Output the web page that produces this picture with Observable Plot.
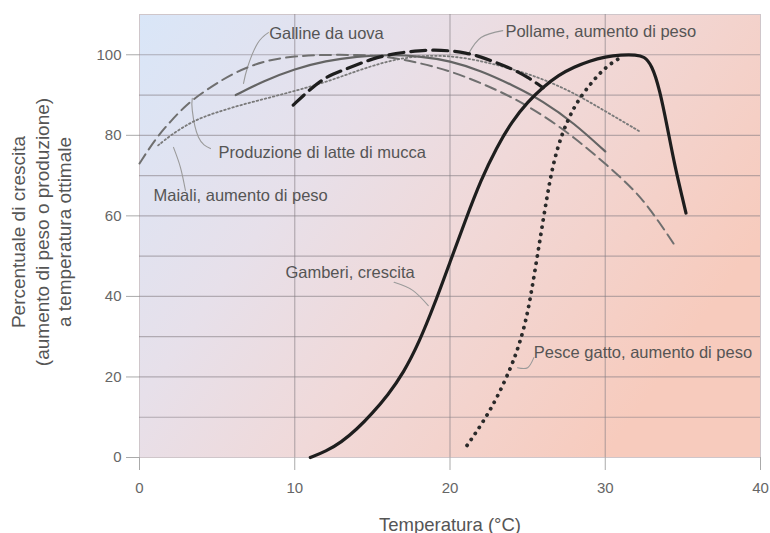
<!DOCTYPE html>
<html><head><meta charset="utf-8">
<script src="https://cdn.jsdelivr.net/npm/d3@7"></script>
<script src="https://cdn.jsdelivr.net/npm/@observablehq/plot@0.6"></script>
<style>
body{margin:0;background:#fff;}
svg{font-family:"Liberation Sans",Arial,sans-serif;}
</style>
</head><body><div id="chart"></div>
<script>
// ---- data (temperature °C, percent of growth at optimal temperature) ----
const gallineT = [6.2, 8, 10, 12, 14, 16, 18, 20, 22, 24, 26, 28, 30];
const gallineV = [90, 93.5, 96.5, 98.5, 99.6, 100, 99.7, 98.5, 96, 92.5, 88.5, 83, 76];

const latteT = [0, 1, 2, 3, 4, 6, 8, 10, 12, 14, 16, 18, 20, 22, 24, 26, 28, 30, 32, 33, 34, 34.5];
const latteV = [73, 79, 83.5, 87.5, 90.5, 95.5, 98.5, 99.7, 100, 100, 99.6, 98, 96, 93, 89.5, 85, 79.5, 73, 66, 61, 55.5, 52.5];

const maialiT = [1.2, 2, 3, 4, 6, 8, 10, 12, 14, 16, 18, 20, 22, 24, 26, 28, 30, 32.2];
const maialiV = [77.5, 80, 82.5, 84.5, 87, 89, 91, 93.2, 96, 98.5, 99.8, 99.8, 98.5, 96.5, 94, 90.5, 86, 81];

const pollameT = [9.9, 11, 12, 13, 14, 15, 16, 17, 18, 19, 20, 21, 22, 23, 24, 25, 26];
const pollameV = [87.5, 91.5, 94.5, 96, 97.5, 99, 100, 100.6, 101, 101.2, 101, 100.5, 99.5, 98, 96.5, 94.5, 91.8];

const gamberiT = [11, 12, 13, 14, 15, 16, 17, 18, 19, 20, 21, 22, 23, 24, 25, 26, 27, 28, 29, 30, 31, 32, 32.5, 33, 33.5, 34, 34.5, 35, 35.2];
const gamberiV = [0, 1.5, 3.8, 7, 11, 15.5, 21, 28.5, 38, 48.5, 59, 69, 77, 83.5, 88.3, 92, 95, 97, 98.5, 99.5, 100, 100, 99.6, 97.5, 91.5, 82, 72, 64, 60.7];

const pesceT = [21.1, 22, 23, 24, 24.5, 25, 25.5, 26, 26.5, 27, 27.5, 28, 28.5, 29, 29.5, 30, 30.5, 31];
const pesceV = [3, 8, 14.5, 23, 28.5, 35.5, 47, 59, 70.5, 78, 83, 87, 90, 92.5, 94.8, 96.7, 98.2, 99.3];

// ---- ticks ----
const xTicks = [0, 10, 20, 30, 40];
const yTicks = [0, 20, 40, 60, 80, 100];
const xGrid = [10, 20, 30];
const yGrid = [10, 20, 30, 40, 50, 60, 70, 80, 90, 100];

// ---- annotations (label text and anchor in data units) ----
const labelText = ["Galline da uova", "Pollame, aumento di peso", "Produzione di latte di mucca", "Maiali, aumento di peso", "Gamberi, crescita", "Pesce gatto, aumento di peso"];
const labelT = [8.35, 23.57, 5.09, 0.9, 9.4, 25.4];
const labelV = [105.3, 105.8, 75.6, 65.1, 45.9, 26.1];

const leaderId = ["g","g","g","g","p","p","p","l","l","l","l","m","m","m","s","s","s","c","c","c"];
const leaderT = [8.3, 7.6, 6.96, 6.7, 23.4, 22.0, 21.2, 4.57, 3.8, 3.4, 3.4, 2.96, 2.64, 2.19, 16.4, 17.6, 18.6, 25.4, 25.0, 24.35];
const leaderV = [105.5, 102.8, 96.9, 92.9, 106, 104.3, 100.3, 76.7, 79.5, 86.2, 89.2, 66.3, 72, 77, 43.5, 41.5, 37.7, 24.8, 22.3, 22.3];

// ---- build tables ----
const rows = (xs, ys) => xs.map((x, i) => ({t: x, v: ys[i]}));
const labels = labelText.map((s, i) => ({text: s, t: labelT[i], v: labelV[i]}));
const leaders = leaderId.map((id, i) => ({id, t: leaderT[i], v: leaderV[i]}));

const curve = "basis";
const svg = Plot.plot({
  width: 770,
  height: 533,
  marginTop: 14,
  marginRight: 10,
  marginBottom: 76,
  marginLeft: 139,
  x: {domain: [0, 40]},
  y: {domain: [0, 110]},
  marks: [
    Plot.frame({fill: "#ece2e6", stroke: "#cfc6ca"}),
    Plot.gridY(yGrid, {stroke: "#857d83", strokeOpacity: 0.55, strokeWidth: 1.2}),
    Plot.gridX(xGrid, {stroke: "#857d83", strokeOpacity: 0.55, strokeWidth: 1.2}),
    Plot.axisY(yTicks, {tickSize: 13, tickPadding: 5, fontSize: 15, label: null, stroke: "#aaa", fill: "#666"}),
    Plot.axisX(xTicks, {tickSize: 13, tickPadding: 12, fontSize: 15, label: null, stroke: "#aaa", fill: "#666"}),
    Plot.line(leaders, {x: "t", y: "v", z: "id", curve: "natural", stroke: "#9a9a9a", strokeWidth: 1.1}),
    Plot.line(rows(maialiT, maialiV), {x: "t", y: "v", curve, stroke: "#7a7a7a", strokeWidth: 1.8, strokeDasharray: "1.6,2.6"}),
    Plot.line(rows(latteT, latteV), {x: "t", y: "v", curve, stroke: "#6f6f6f", strokeWidth: 2, strokeDasharray: "11,6"}),
    Plot.line(rows(gallineT, gallineV), {x: "t", y: "v", curve, stroke: "#646464", strokeWidth: 2.2}),
    Plot.line(rows(pollameT, pollameV), {x: "t", y: "v", curve, stroke: "#1e1e1e", strokeWidth: 3.2, strokeDasharray: "15,7"}),
    Plot.line(rows(gamberiT, gamberiV), {x: "t", y: "v", curve, stroke: "#1e1e1e", strokeWidth: 3.2}),
    Plot.line(rows(pesceT, pesceV), {x: "t", y: "v", curve, stroke: "#2a2a2a", strokeWidth: 3.8, strokeDasharray: "0.1,7.2", strokeLinecap: "round"}),
    Plot.text(labels, {x: "t", y: "v", text: "text", textAnchor: "start", fontSize: 16.5, fill: "#555"})
  ]
});

// gradient background of the plotting frame
const s = d3.select(svg);
const defs = s.insert("defs", ":first-child");
const g = defs.append("linearGradient").attr("id", "bgGrad")
  .attr("x1", 0).attr("y1", 0).attr("x2", 1).attr("y2", 0.5);
[[0, "#d9e6f8"], [0.35, "#e7e0ea"], [0.6, "#f0d9d9"], [1, "#f7cbbd"]]
  .forEach(([o, c]) => g.append("stop").attr("offset", o).attr("stop-color", c));
let fr = s.select('[aria-label="frame"]');
if (!fr.empty() && fr.node().tagName.toLowerCase() !== "rect") fr = fr.select("rect");
fr.attr("fill", "url(#bgGrad)");

// axis titles
const yTitle = ["Percentuale di crescita", "(aumento di peso o produzione)", "a temperatura ottimale"];
const yTitleX = [18, 42, 64];
yTitle.forEach((t, i) => {
  s.append("text")
    .attr("transform", `translate(${yTitleX[i]},232) rotate(-90)`)
    .attr("text-anchor", "middle").attr("dominant-baseline", "central")
    .attr("font-size", 19).attr("fill", "#555").text(t);
});
s.append("text").attr("x", 450).attr("y", 524)
  .attr("text-anchor", "middle").attr("dominant-baseline", "central")
  .attr("font-size", 18.5).attr("fill", "#555").text("Temperatura (°C)");

document.getElementById("chart").appendChild(svg);
</script></body></html>
